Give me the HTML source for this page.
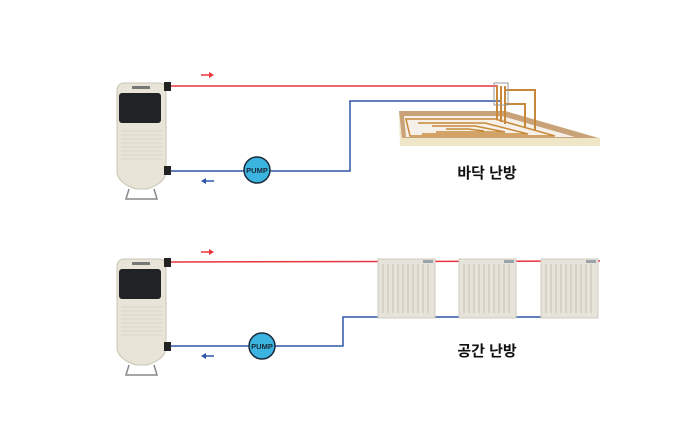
<!DOCTYPE html>
<html><head><meta charset="utf-8"><style>
html,body{margin:0;padding:0;background:#fff;}
svg{display:block;}
text{font-family:"Liberation Sans","Noto Sans CJK KR",sans-serif;}
</style></head><body>
<svg width="698" height="442" viewBox="0 0 698 442" xmlns="http://www.w3.org/2000/svg">
<defs>
<g id="boiler">
  <path d="M0,8 Q0,0 8,0 L42,0 Q49,0 49,8 L49,88 Q49,100 30,106 L19,106 Q0,100 0,88 Z" fill="#e8e5d8" stroke="#c9c5b5" stroke-width="1"/>
  <rect x="2" y="10" width="42" height="30" rx="3" fill="#1f2326"/>
  <g stroke="#d6d2c2" stroke-width="0.8">
    <line x1="4" y1="48" x2="45" y2="48"/><line x1="4" y1="52" x2="45" y2="52"/><line x1="4" y1="56" x2="45" y2="56"/>
    <line x1="4" y1="60" x2="45" y2="60"/><line x1="4" y1="64" x2="45" y2="64"/><line x1="4" y1="68" x2="45" y2="68"/>
    <line x1="4" y1="72" x2="45" y2="72"/><line x1="4" y1="76" x2="45" y2="76"/>
  </g>
  <rect x="15" y="3" width="18" height="3" fill="#777"/>
  <path d="M12,106 L9,116 L40,116 L37,106" fill="none" stroke="#888" stroke-width="1.5"/>
</g>
</defs>

<use href="#boiler" x="117" y="83"/>
<rect x="164" y="82" width="7" height="9" fill="#222"/>
<rect x="164" y="166" width="7" height="9" fill="#222"/>
<line x1="171" y1="86" x2="498" y2="86" stroke="#e8343c" stroke-width="1.5"/>
<polyline points="171,171 350,171 350,101 500,101" fill="none" stroke="#2f55a8" stroke-width="1.5"/>
<line x1="201" y1="75" x2="212" y2="75" stroke="#e8343c" stroke-width="1.5"/>
<polygon points="214,75 209,72 209,78" fill="#e8343c"/>
<line x1="203" y1="181" x2="214" y2="181" stroke="#2f55a8" stroke-width="1.5"/>
<polygon points="201,181 206,178 206,184" fill="#2f55a8"/>
<circle cx="257" cy="170" r="13" fill="#3bb4e0" stroke="#1a2a3a" stroke-width="1.5"/>
<text x="257" y="173" font-size="7.5" font-weight="bold" text-anchor="middle" fill="#1a2a3a">PUMP</text>

<polygon points="399,111 505,111 600,138 600,146 400,146" fill="#efe6c8"/>
<polygon points="399,111 505,111 598,138 402,138" fill="#c9a27a"/>
<polygon points="404,116 502,116 575,137 406,137" fill="#f5f1e8"/>
<g fill="none" stroke="#c8883a" stroke-width="1.5">
  <path d="M406,119 L495,119 L555,136 L410,136 Z"/>
  <path d="M418,123 L485,123 L528,134 L422,134"/>
  <path d="M432,126 L475,126 L505,132 L436,132"/>
  <path d="M446,129 L468,129 L484,131"/>
</g>
<g stroke="#c8883a" stroke-width="2" fill="none">
  <line x1="497" y1="86" x2="497" y2="120"/>
  <line x1="501" y1="86" x2="501" y2="122"/>
  <line x1="505" y1="86" x2="505" y2="124"/>
  <polyline points="505,90 535,90 535,130"/>
  <polyline points="505,104 525,104 525,128"/>
</g>
<rect x="494" y="83" width="14" height="22" fill="none" stroke="#999" stroke-width="1"/>
<text x="487" y="178" font-size="15" font-weight="bold" text-anchor="middle" fill="#111">바닥 난방</text>

<use href="#boiler" x="117" y="259"/>
<rect x="164" y="258" width="7" height="9" fill="#222"/>
<rect x="164" y="342" width="7" height="9" fill="#222"/>
<line x1="171" y1="262" x2="600" y2="261" stroke="#e8343c" stroke-width="1.5"/>
<polyline points="171,346 343,346 343,317 598,317" fill="none" stroke="#2f55a8" stroke-width="1.5"/>
<line x1="201" y1="252" x2="212" y2="252" stroke="#e8343c" stroke-width="1.5"/>
<polygon points="214,252 209,249 209,255" fill="#e8343c"/>
<line x1="203" y1="356" x2="214" y2="356" stroke="#2f55a8" stroke-width="1.5"/>
<polygon points="201,356 206,353 206,359" fill="#2f55a8"/>
<circle cx="262" cy="346" r="13" fill="#3bb4e0" stroke="#1a2a3a" stroke-width="1.5"/>
<text x="262" y="349" font-size="7.5" font-weight="bold" text-anchor="middle" fill="#1a2a3a">PUMP</text>

<defs>
<g id="rad">
  <rect x="0" y="0" width="57" height="59" fill="#e6e3da" stroke="#cfcbc0"/>
  <rect x="45" y="1" width="10" height="3" fill="#9aa3aa"/>
  <g stroke="#c6c2b6" stroke-width="1">
    <line x1="5" y1="5" x2="5" y2="54"/><line x1="10" y1="5" x2="10" y2="54"/><line x1="15" y1="5" x2="15" y2="54"/>
    <line x1="20" y1="5" x2="20" y2="54"/><line x1="25" y1="5" x2="25" y2="54"/><line x1="30" y1="5" x2="30" y2="54"/>
    <line x1="35" y1="5" x2="35" y2="54"/><line x1="40" y1="5" x2="40" y2="54"/><line x1="45" y1="5" x2="45" y2="54"/>
    <line x1="50" y1="5" x2="50" y2="54"/>
  </g>
</g>
</defs>
<use href="#rad" x="378" y="259"/>
<use href="#rad" x="459" y="259"/>
<use href="#rad" x="541" y="259"/>
<text x="487" y="356" font-size="15" font-weight="bold" text-anchor="middle" fill="#111">공간 난방</text>
</svg>
</body></html>
